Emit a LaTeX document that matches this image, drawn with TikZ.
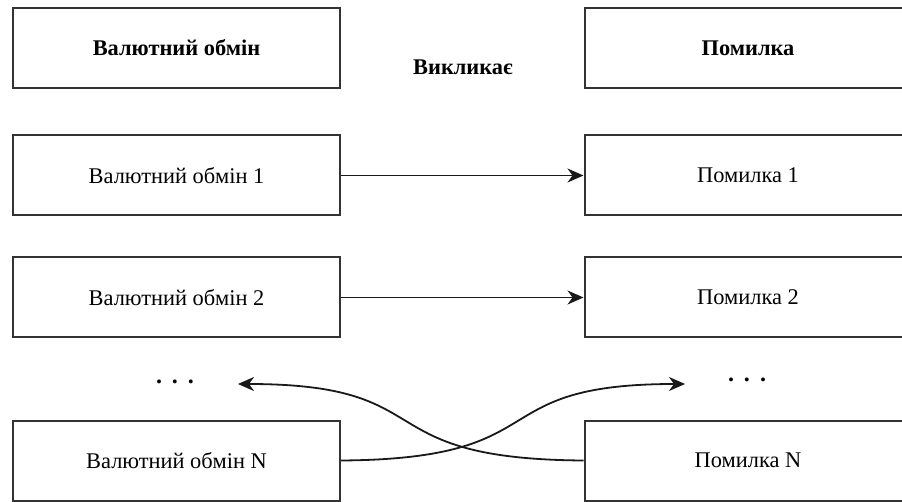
\documentclass[tikz,border=0pt]{standalone}
\usepackage{fontspec}
\setmainfont{Liberation Serif}
\usetikzlibrary{arrows.meta}
\begin{document}
\begin{tikzpicture}[x=1pt,y=-1pt,
  box/.style={draw=black!80, line width=2pt, minimum width=327pt,
    minimum height=80pt, inner sep=0pt, font=\fontsize{22.4}{26}\selectfont},
  head/.style={box, font=\fontsize{22.4}{26}\selectfont\bfseries},
  link/.style={draw=black!90, line width=1.8pt,
    -{Stealth[length=16pt,width=14pt,inset=5pt]}},
  dots/.style={font=\fontsize{24}{28}\selectfont\bfseries, inner sep=0pt}]
  \useasboundingbox (0,0) rectangle (902,502);
  \clip (0,0) rectangle (902,502);

  % column headers
  \node[head] (lh) at (176.5,48) {Валютний обмін};
  \node[head] (rh) at (748,48) {Помилка};
  \node[font=\fontsize{22.4}{26}\selectfont\bfseries] (cause) at (463,67) {Викликає};

  % exchange / error pairs
  \node[box] (l1) at (176.5,175.5) {Валютний обмін 1};
  \node[box] (r1) at (748,175.5) {Помилка 1};
  \node[box] (l2) at (176.5,297.5) {Валютний обмін 2};
  \node[box] (r2) at (748,297.5) {Помилка 2};
  \node[box] (ln) at (176.5,460.5) {Валютний обмін N};
  \node[box] (rn) at (748,460.5) {Помилка N};

  % ellipsis markers
  \node[dots] (ld) at (175,382) {.\hspace{10pt}.\hspace{10pt}.};
  \node[dots] (rd) at (747,380) {.\hspace{10pt}.\hspace{10pt}.};
  \coordinate (la) at (238,384);
  \coordinate (ra) at (685,384);

  % connectors
  \draw[link] (l1.east) -- (r1.west);
  \draw[link] (l2.east) -- (r2.west);
  \draw[link] (ln.east) .. controls (561,459) and (478,384) .. (ra);
  \draw[link] (rn.west) .. controls (362.5,459) and (445.5,384) .. (la);
\end{tikzpicture}
\end{document}
